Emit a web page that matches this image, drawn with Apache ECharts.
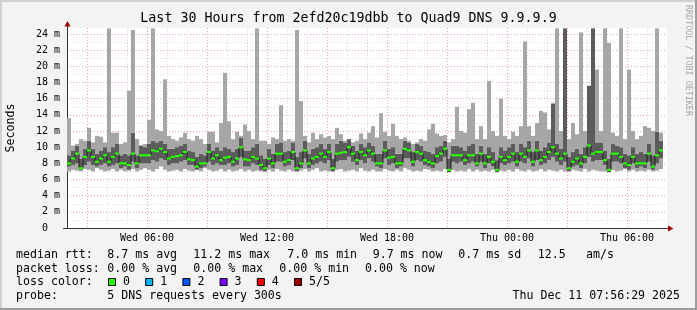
<!DOCTYPE html>
<html><head><meta charset="utf-8">
<script src="https://cdn.jsdelivr.net/npm/echarts@6/dist/echarts.min.js"></script>
<style>html,body{margin:0;padding:0;background:#f3f3f3}#c{width:697px;height:310px}</style>
</head><body><div id="c"></div>
<script>
// 150 bins of 12 minutes, Wed 02:00 -> Thu 08:00 (values in ms)
const medianMs = [8.0,8.6,9.2,7.4,8.8,9.6,8.8,8.2,8.6,9.0,
 8.2,8.8,9.2,8.0,8.0,7.8,9.2,8.0,9.0,9.0,
 9.0,9.6,9.5,9.8,9.4,8.6,8.8,8.9,9.0,9.4,
 8.5,8.4,7.6,8.0,8.0,9.4,8.6,9.0,8.4,8.7,
 8.8,8.2,8.6,10.0,8.5,8.4,8.8,8.6,7.8,7.4,
 8.6,8.0,9.2,9.2,8.2,8.4,9.4,7.4,8.0,9.6,
 8.0,8.6,8.8,9.2,8.8,9.4,7.4,9.2,9.3,9.4,
 10.0,9.2,8.4,9.4,9.0,9.6,9.2,8.0,8.0,9.6,
 8.7,8.8,8.0,8.0,9.8,9.6,8.2,9.4,9.2,8.4,
 8.2,8.0,8.9,9.2,9.8,7.2,9.0,9.0,9.0,8.4,
 9.0,9.0,8.0,9.2,8.0,8.8,8.2,7.2,8.8,8.4,
 8.8,9.2,8.2,9.2,8.8,9.6,8.2,9.6,8.4,8.8,
 9.4,10.0,9.2,8.6,9.2,7.4,8.2,8.6,8.0,8.8,
 10.2,9.2,9.4,9.4,8.4,7.2,9.2,9.2,8.8,8.0,
 7.8,8.8,8.0,8.0,8.0,9.2,7.6,9.0,9.6,null];
const minMs = [7.0,7.2,7.1,7.0,7.3,7.2,7.0,7.4,7.2,7.0,
 7.1,7.3,7.0,7.2,7.0,7.1,7.3,7.0,7.2,7.4,
 7.2,7.0,7.3,7.6,7.2,7.0,7.1,7.2,7.0,7.3,
 7.1,7.0,7.2,7.0,7.4,7.2,7.0,7.1,7.3,7.0,
 7.2,7.0,7.1,7.3,7.0,7.2,7.0,7.1,7.0,7.0,
 7.2,7.0,7.3,7.1,7.0,7.2,7.0,7.0,7.1,7.3,
 7.0,7.2,7.4,7.0,7.1,7.0,7.0,7.2,7.3,7.0,
 7.1,7.2,7.0,7.4,7.1,7.0,7.2,7.0,7.0,7.3,
 7.1,7.0,7.2,7.0,7.4,7.2,7.0,7.1,7.0,7.3,
 7.2,7.0,7.1,7.0,7.3,6.9,7.2,7.0,7.1,7.0,
 7.3,7.0,7.2,7.0,7.1,7.0,7.2,6.9,7.1,7.0,
 7.2,7.0,7.3,7.1,7.0,7.2,7.0,7.1,7.3,7.0,
 7.2,7.1,7.0,7.2,7.0,7.0,7.2,7.1,7.0,7.3,
 7.0,7.2,7.1,7.0,7.0,6.9,7.2,7.0,7.1,7.3,
 7.0,7.2,7.0,7.1,7.0,7.2,7.0,7.1,7.3,null];
const loMs = [7.6,7.8,8.0,7.2,7.8,8.2,7.8,7.6,7.8,8.0,
 7.6,7.8,8.0,7.4,7.6,7.2,8.2,7.4,8.0,8.0,
 8.0,8.4,8.2,8.6,8.4,7.8,8.0,8.0,8.2,8.4,
 7.8,7.8,7.2,7.4,7.6,8.2,7.8,8.0,7.8,7.8,
 8.0,7.6,7.8,8.8,7.6,7.6,8.0,7.8,7.2,7.0,
 7.8,7.4,8.2,8.2,7.6,7.8,8.4,7.0,7.4,8.6,
 7.4,7.8,8.0,8.2,8.0,8.4,7.0,8.2,8.4,8.4,
 8.8,8.2,7.8,8.4,8.0,8.6,8.2,7.6,7.4,8.6,
 7.8,8.0,7.4,7.6,8.6,8.6,7.6,8.4,8.2,7.8,
 7.6,7.4,8.0,8.2,8.8,6.9,8.2,8.0,8.2,7.8,
 8.0,8.2,7.6,8.2,7.4,8.0,7.6,6.9,8.0,7.8,
 8.0,8.2,7.6,8.2,8.0,8.6,7.6,8.4,7.8,8.0,
 8.4,8.8,8.2,7.8,8.2,7.0,7.6,7.8,7.4,8.0,
 8.8,8.2,8.4,8.4,7.8,6.9,8.2,8.2,8.0,7.4,
 7.2,8.0,7.4,7.6,7.4,8.2,7.2,8.0,8.6,null];
const hiMs = [9.0,9.6,10.2,8.6,9.8,10.8,9.8,9.2,9.6,10.0,
 9.4,10.0,10.4,9.0,9.2,9.0,11.8,9.0,10.2,10.0,
 10.4,10.8,10.6,10.8,10.4,9.8,9.8,10.0,10.2,10.4,
 9.6,9.4,8.8,9.2,9.0,10.4,9.6,10.0,9.6,10.0,
 9.8,9.4,9.8,11.2,9.6,9.6,10.0,10.4,9.0,8.6,
 9.8,9.2,10.4,10.6,9.4,9.6,10.6,8.8,9.4,10.8,
 9.2,9.8,10.0,10.4,9.8,10.4,8.6,10.4,10.8,10.6,
 11.0,10.2,9.6,10.4,10.0,10.6,10.2,9.2,9.2,10.8,
 9.8,10.0,9.2,9.2,10.8,10.6,9.4,10.4,10.2,9.6,
 9.4,9.2,10.0,10.2,10.8,8.6,10.2,10.2,10.0,9.6,
 10.2,10.4,9.2,10.2,9.2,10.0,9.4,8.4,10.0,9.6,
 10.0,10.4,9.4,10.4,10.0,10.8,9.4,10.8,9.6,10.0,
 10.6,15.4,10.4,9.8,24.7,8.8,9.4,9.8,9.2,10.0,
 17.6,24.7,10.6,10.6,9.6,8.6,10.4,10.2,10.0,9.2,
 9.0,10.0,9.2,9.4,9.2,10.4,9.0,11.9,10.8,null];
const maxMs = [13.6,10.2,10.4,11.0,10.8,12.4,10.6,11.4,11.3,10.6,
 24.7,11.8,11.8,10.4,10.6,17.0,24.5,11.0,10.2,10.4,
 13.4,24.7,12.2,12.0,18.4,11.4,11.0,10.8,11.2,11.8,
 11.0,10.8,11.4,11.0,10.4,11.9,11.9,10.6,13.0,19.2,
 13.2,11.0,11.9,11.4,12.8,12.0,11.0,24.7,10.8,10.8,
 10.4,11.2,11.0,15.2,10.8,11.0,10.8,24.5,15.7,11.4,
 10.6,11.8,11.0,11.6,11.2,11.4,11.0,12.4,11.6,10.8,
 11.0,10.6,10.8,11.7,11.0,11.8,12.6,11.2,14.2,11.9,
 11.4,12.9,11.4,11.0,11.2,10.8,10.4,10.6,11.0,10.8,
 12.2,12.9,11.7,11.4,11.5,10.6,11.0,15.0,12.0,11.8,
 14.7,15.5,11.0,12.6,11.0,18.2,12.0,11.4,16.0,11.4,
 11.0,11.9,11.4,12.6,23.1,12.6,11.4,13.0,14.5,14.3,
 12.2,15.5,24.7,12.0,24.7,11.0,13.0,11.6,24.2,12.0,
 17.6,24.7,19.6,12.0,24.7,22.9,11.8,11.4,24.7,11.0,
 19.6,12.0,11.0,11.4,12.6,12.4,12.0,24.7,11.8,null];
const hourTicks = [4,10,16,22,28];
const hourLabels = ['Wed 06:00','Wed 12:00','Wed 18:00','Thu 00:00','Thu 06:00'];
const lossColors = ['#26ff00','#00b8ff','#0059ff','#7e00ff','#ff0000','#a10000'];
const lossLabels = ['0','1','2','3','4','5/5'];

const categories = medianMs.map((_, i) => String(i));
const diff = (a, b) => a.map((v, i) => (v == null || b[i] == null) ? null : Math.max(0, +(v - b[i]).toFixed(3)));
const light1 = diff(loMs, minMs);
const dark = diff(hiMs, loMs);
const light2 = diff(maxMs, hiMs);
const MED_H = 0.26;
const medBase = medianMs.map(v => v == null ? null : v - MED_H / 2);
const medBar = medianMs.map(v => v == null ? null : MED_H);

const MONO = '"DejaVu Sans Mono", monospace';
const LIGHT = '#a6a6a6', DARK = '#5c5c5c';

function bar(name, data, color, stack, z) {
  return { name, type: 'bar', stack, data, xAxisIndex: 0, yAxisIndex: 0,
    barCategoryGap: '0%', barGap: '-100%', z: z,
    itemStyle: { color }, emphasis: { disabled: true }, silent: true };
}

const gfx = [];
function txt(x, y, s, opt) {
  gfx.push(Object.assign({ type: 'text', x, y, silent: true,
    style: { text: s, font: '11.6px ' + MONO, fill: '#000', textAlign: 'left', textVerticalAlign: 'middle' } }, opt || {}));
}
// legend lines
txt(16, 255, 'median rtt:'); txt(107.3, 255, '8.7 ms avg'); txt(193.3, 255, '11.2 ms max');
txt(287.3, 255, '7.0 ms min'); txt(372.7, 255, '9.7 ms now'); txt(458.3, 255, '0.7 ms sd');
txt(537.7, 255, '12.5'); txt(586, 255, 'am/s');
txt(16, 268.5, 'packet loss:'); txt(107.3, 268.5, '0.00 % avg'); txt(193.3, 268.5, '0.00 % max');
txt(279.3, 268.5, '0.00 % min'); txt(365, 268.5, '0.00 % now');
txt(16, 282, 'loss color:');
lossColors.forEach((c, k) => {
  const bx = 108.5 + k * 37.2;
  gfx.push({ type: 'rect', shape: { x: bx, y: 278.5, width: 7, height: 7 }, style: { fill: c, stroke: '#000', lineWidth: 1 }, silent: true });
  txt(bx + 14.5, 282, lossLabels[k]);
});
txt(16, 296, 'probe:'); txt(107.3, 296, '5 DNS requests every 300s');
gfx.push({ type: 'text', x: 680, y: 296, silent: true, style: { text: 'Thu Dec 11 07:56:29 2025', font: '11.6px ' + MONO, fill: '#000', textAlign: 'right', textVerticalAlign: 'middle' } });
// title
gfx.push({ type: 'text', x: 348.5, y: 19, silent: true, style: { text: 'Last 30 Hours from 2efd20c19dbb to Quad9 DNS 9.9.9.9', font: '13.3px ' + MONO, fill: '#000', textAlign: 'center', textVerticalAlign: 'middle' } });
// vertical credit
gfx.push({ type: 'text', x: 688.5, y: 5, rotation: -Math.PI / 2, silent: true, style: { text: 'RRDTOOL / TOBI OETIKER', font: '8.4px ' + MONO, fill: '#a8a8a8', textAlign: 'left', textVerticalAlign: 'middle' } });
// arrows and axis extension
gfx.push({ type: 'line', shape: { x1: 67.5, y1: 25, x2: 67.5, y2: 28 }, style: { stroke: '#333', lineWidth: 1 }, silent: true });
gfx.push({ type: 'polygon', shape: { points: [[67.5, 21], [64.5, 26.5], [70.5, 26.5]] }, style: { fill: '#a00000' }, silent: true });
gfx.push({ type: 'line', shape: { x1: 63, y1: 228.5, x2: 669, y2: 228.5 }, style: { stroke: '#333', lineWidth: 1 }, silent: true });
gfx.push({ type: 'polygon', shape: { points: [[673.5, 228.5], [668, 225.5], [668, 231.5]] }, style: { fill: '#a00000' }, silent: true });
// frame
gfx.push({ type: 'line', shape: { x1: 0, y1: 1, x2: 697, y2: 1 }, style: { stroke: '#d2d2d2', lineWidth: 2 }, silent: true });
gfx.push({ type: 'line', shape: { x1: 1, y1: 0, x2: 1, y2: 310 }, style: { stroke: '#d2d2d2', lineWidth: 2 }, silent: true });
gfx.push({ type: 'line', shape: { x1: 0, y1: 309, x2: 697, y2: 309 }, style: { stroke: '#9c9c9c', lineWidth: 2 }, silent: true });
gfx.push({ type: 'line', shape: { x1: 696, y1: 0, x2: 696, y2: 310 }, style: { stroke: '#9c9c9c', lineWidth: 2 }, silent: true });

const chart = echarts.init(document.getElementById('c'), null, { renderer: 'canvas' });
chart.setOption({
  animation: false,
  backgroundColor: '#f3f3f3',
  grid: { left: 67, right: 30, top: 28, bottom: 82, show: true, backgroundColor: '#fff', borderWidth: 0,
    containLabel: false, outerBoundsMode: 'none' },
  xAxis: [
    { type: 'category', data: categories, show: false, boundaryGap: true },
    { type: 'value', min: 0, max: 30, interval: 1, position: 'bottom',
      axisLine: { show: false }, axisTick: { show: false },
      axisLabel: { show: true, margin: 5, fontFamily: MONO, fontSize: 10, color: '#000',
        showMinLabel: true, showMaxLabel: true, hideOverlap: false,
        formatter: v => { const k = hourTicks.indexOf(Math.round(v)); return (k >= 0 && Math.abs(v - Math.round(v)) < 1e-6) ? hourLabels[k] : ''; } },
      splitLine: { show: true, showMinLine: true, showMaxLine: false,
        lineStyle: { color: ['#dcdcdc', '#eaa3a3', '#dcdcdc'], type: [1, 2], width: 1 } } }
  ],
  yAxis: [
    { type: 'value', min: 0, max: 24.75, interval: 2, z: 1,
      axisLine: { show: true, lineStyle: { color: '#333' } }, axisTick: { show: false },
      axisLabel: { margin: 7, fontFamily: MONO, fontSize: 10, color: '#000',
        formatter: v => (Math.abs(v % 2) > 1e-6) ? '' : (v === 0 ? '0  ' : v + ' m') },
      splitLine: { show: true, showMinLine: false, showMaxLine: false, lineStyle: { color: '#eaa3a3', type: [1, 2] } },
      name: 'Seconds', nameLocation: 'middle', nameGap: 50, nameRotate: 90,
      nameTextStyle: { fontFamily: MONO, fontSize: 11.6, color: '#000' } },
    { type: 'value', min: 0, max: 24.75, interval: 1, z: 0,
      axisLine: { show: false }, axisTick: { show: false }, axisLabel: { show: false },
      splitLine: { show: true, showMinLine: false, showMaxLine: false, lineStyle: { color: '#dcdcdc', type: [1, 2] } } }
  ],
  series: [
    bar('base', minMs, 'rgba(0,0,0,0)', 'smoke', 2),
    bar('light1', light1, LIGHT, 'smoke', 2),
    bar('dark', dark, DARK, 'smoke', 2),
    bar('light2', light2, LIGHT, 'smoke', 2),
    { name: 'medline', type: 'line', data: medianMs, step: 'middle', xAxisIndex: 0, yAxisIndex: 0,
      symbol: 'none', lineStyle: { color: '#1e1e1e', width: 1 }, z: 3, silent: true },
    bar('medBase', medBase, 'rgba(0,0,0,0)', 'med', 4),
    bar('median', medBar, '#26ff00', 'med', 4)
  ],
  graphic: { elements: gfx }
});
</script></body></html>
